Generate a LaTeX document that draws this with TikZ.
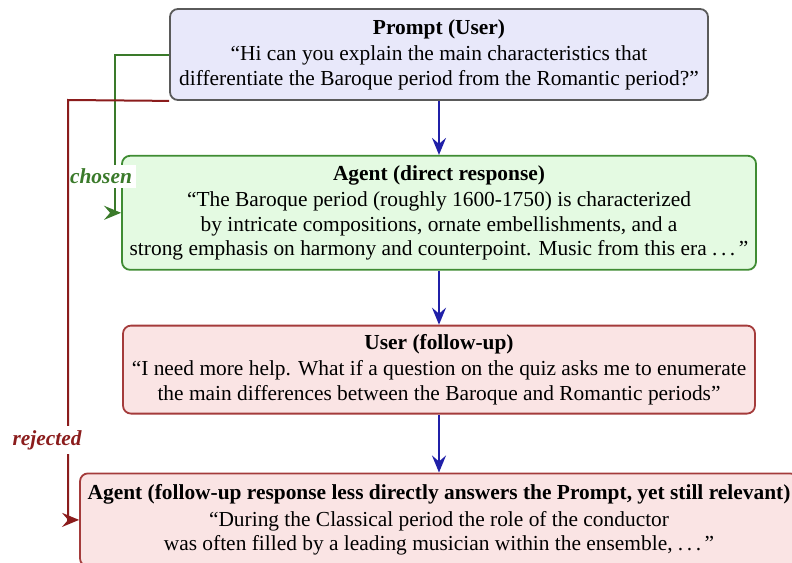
\documentclass[tikz,border=0pt]{standalone}
\usepackage{xcolor}
\usepackage{fontspec}
\setmainfont{Liberation Serif}
\usepackage{tikz}
\usetikzlibrary{positioning, arrows.meta}
\definecolor{promptfill}{HTML}{E8E8FA}
\definecolor{promptdraw}{HTML}{5A5A5A}
\definecolor{goodfill}{HTML}{E4FAE2}
\definecolor{gooddraw}{HTML}{3F8C33}
\definecolor{badfill}{HTML}{FAE4E4}
\definecolor{baddraw}{HTML}{A43B3B}
\definecolor{flowblue}{HTML}{2020A8}
\definecolor{chosencol}{HTML}{3A7A2A}
\definecolor{rejectcol}{HTML}{8B1C1C}
\newcommand{\moredots}{.\,.\,.\,}
\tikzstyle{turn} = [rectangle, rounded corners=4pt, align=center, line width=0.9pt, inner xsep=3pt, inner ysep=1.5pt, font=\fontsize{10.7}{12.3}\selectfont]
\tikzstyle{promptbox} = [turn, fill=promptfill, draw=promptdraw, minimum width=269pt, minimum height=45.5pt]
\tikzstyle{goodbox} = [turn, fill=goodfill, draw=gooddraw, minimum width=317pt, minimum height=57pt]
\tikzstyle{badbox} = [turn, fill=badfill, draw=baddraw, minimum width=316pt, minimum height=44pt]
\tikzstyle{flow} = [-{Stealth[length=8.5pt,width=7pt,inset=3pt]}, draw=flowblue, line width=1pt]
\tikzstyle{chosenline} = [-{Stealth[length=8.5pt,width=7pt,inset=3pt]}, draw=chosencol, line width=1pt]
\tikzstyle{rejectline} = [-{Stealth[length=8.5pt,width=7pt,inset=3pt]}, draw=rejectcol, line width=1pt]
\tikzstyle{tag} = [fill=white, inner sep=2pt, font=\fontsize{10.7}{12}\selectfont\bfseries\itshape]

\begin{document}
\begin{tikzpicture}[x=0.5pt, y=-0.5pt, node distance=27pt]
		\useasboundingbox (0,0) rectangle (792,562);
		\clip (0,0) rectangle (792,562);
		% the four turns of the dialogue
		\node[promptbox] (prompt) at (439,54.5) {\textbf{Prompt (User)}\\[1pt]
			``Hi can you explain the main characteristics that\\
			differentiate the Baroque period from the Romantic period?''};
		\node[goodbox, below = of prompt] (agent) {\textbf{Agent (direct response)}\\[1pt]
			``The Baroque period (roughly 1600-1750) is characterized\\
			by intricate compositions, ornate embellishments, and a\\
			strong emphasis on harmony and counterpoint. Music from this era \moredots''};
		\node[badbox, below = of agent] (user) {\textbf{User (follow-up)}\\[1pt]
			``I need more help. What if a question on the quiz asks me to enumerate\\
			the main differences between the Baroque and Romantic periods''};
		\node[badbox, below = 29pt of user, minimum width=359pt, minimum height=46.5pt] (followup) {\textbf{Agent (follow-up response less directly answers the Prompt, yet still relevant)}\\[1pt]
			``During the Classical period the role of the conductor\\
			was often filled by a leading musician within the ensemble, \moredots''};
		\coordinate (chosenbend) at (115,54.5);
		\coordinate (rejectbend) at (68,100);
		% connections
		\draw [flow] (prompt) -- (agent);
		\draw [flow] (agent) -- (user);
		\draw [flow] (user) -- (followup);
		\draw [chosenline] (prompt.west) -- (chosenbend) |- node[tag, text=chosencol, pos=0.385, xshift=-7pt] {chosen} (agent.west);
		\draw [rejectline] (prompt.south west) -- (rejectbend) |- node[tag, text=rejectcol, pos=0.405, xshift=-10.5pt] {rejected} (followup.west);
	\end{tikzpicture}
\end{document}
